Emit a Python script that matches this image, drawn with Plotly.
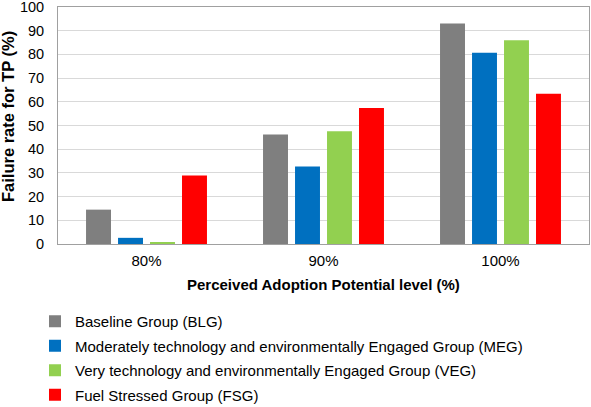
import plotly.graph_objects as go

categories = ["80%", "90%", "100%"]
series_names = [
    "Baseline Group (BLG)",
    "Moderately technology and environmentally Engaged Group (MEG)",
    "Very technology and environmentally Engaged Group (VEG)",
    "Fuel Stressed Group (FSG)",
]
blg = [14.5, 46.2, 93.0]
meg = [2.6, 32.7, 80.7]
veg = [0.7, 47.6, 86.0]
fsg = [28.9, 57.4, 63.4]
colors = ["#7f7f7f", "#0070C0", "#92D050", "#FF0000"]
y_ticks = [0, 10, 20, 30, 40, 50, 60, 70, 80, 90, 100]
x_title = "Perceived Adoption Potential level (%)"
y_title = "Failure rate for TP (%)"

font_family = "Liberation Sans, Arial, sans-serif"
W, H = 591, 407
L, R, T, B = 58, 2, 7, 163
pw, ph = W - L - R, H - T - B

fig = go.Figure()
for i, (name, vals) in enumerate(zip(series_names, [blg, meg, veg, fsg])):
    fig.add_trace(go.Bar(
        x=categories, y=vals, name=name,
        marker=dict(color=colors[i], line=dict(width=0)),
        legendgroup=f"g{i}",
    ))

fig.update_layout(
    width=W, height=H,
    margin=dict(l=L, r=R, t=T, b=B, autoexpand=False),
    paper_bgcolor="white", plot_bgcolor="white",
    font=dict(family=font_family, size=15, color="#000000"),
    barmode="group", bargap=0.277, bargroupgap=0.22,
    showlegend=True,
    legend=dict(
        orientation="v", xref="container", yref="container",
        x=35 / W, y=1 - 305 / H, xanchor="left", yanchor="top",
        font=dict(size=15, color="#000000"), tracegroupgap=2,
        itemwidth=30, bgcolor="rgba(0,0,0,0)",
    ),
    xaxis=dict(
        showline=True, linecolor="#a0a0a0", linewidth=1, mirror=True,
        ticks="", tickfont=dict(size=15), ticklabelstandoff=3,
        automargin=False,
    ),
    yaxis=dict(
        range=[0, 100], tickvals=y_ticks, tickfont=dict(size=14.5),
        ticklabeloverflow="allow", ticklabelstandoff=10,
        showgrid=True, gridcolor="#d9d9d9", gridwidth=1,
        showline=True, linecolor="#a0a0a0", linewidth=1, mirror=True,
        ticks="", zeroline=False, automargin=False,
    ),
    annotations=[
        dict(text=f"<b>{x_title}</b>", xref="paper", yref="paper",
             x=0.5, y=-(284 - (T + ph)) / ph, xanchor="center", yanchor="middle",
             showarrow=False, font=dict(size=15)),
        dict(text=f"<b>{y_title}</b>", xref="paper", yref="paper",
             x=(7.5 - L) / pw, y=(T + ph - 116.5) / ph, xanchor="center", yanchor="middle",
             textangle=-90, showarrow=False, font=dict(size=16.5)),
    ],
)

fig.write_html("out.html", config={"displayModeBar": False},
               post_script="document.body.style.margin='0px';")
